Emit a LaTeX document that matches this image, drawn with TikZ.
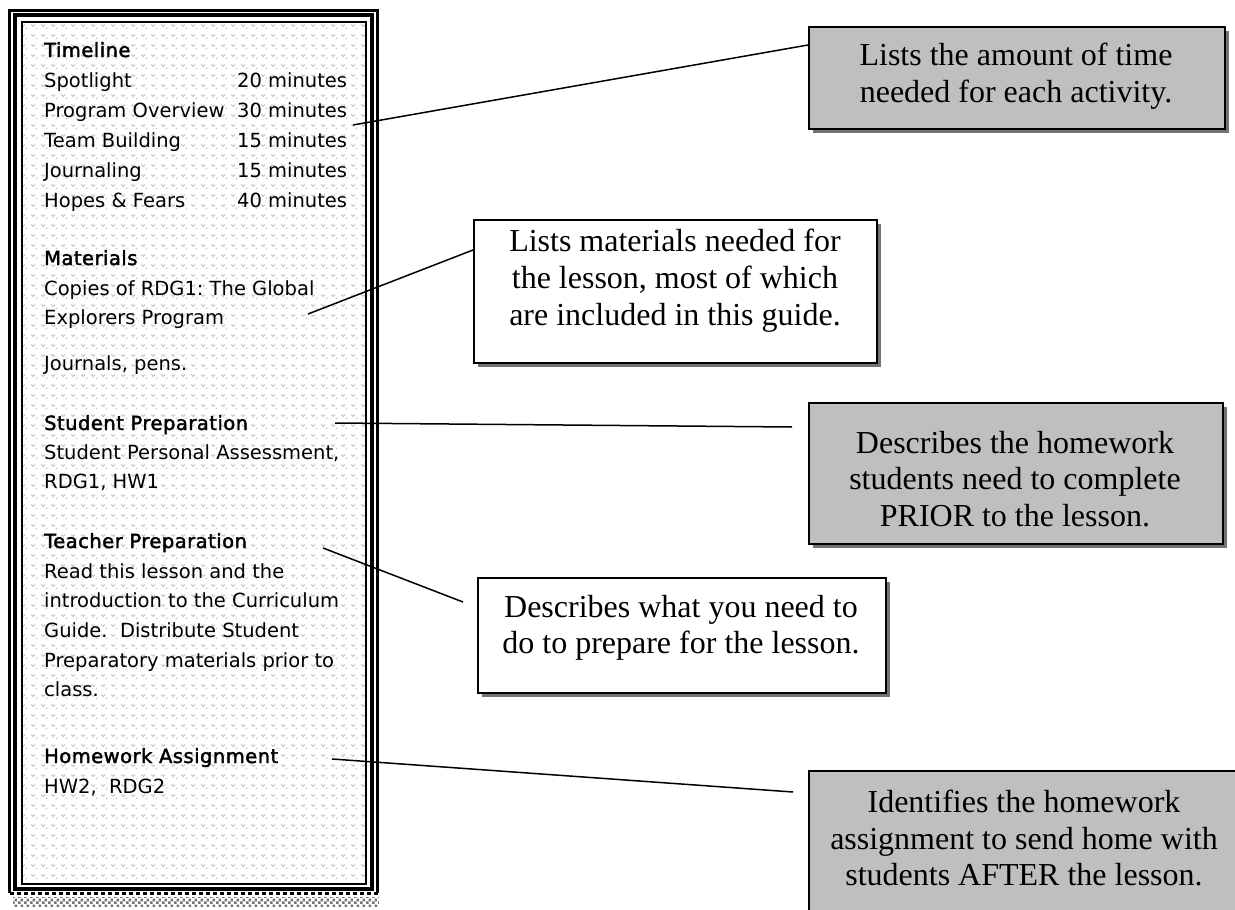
\documentclass[tikz,border=0pt]{standalone}
\usepackage{fontspec}
\setmainfont{Liberation Serif}
\newfontfamily\panelfont{DejaVu Sans}
\newfontfamily\headfont[FakeBold=2,LetterSpace=2.5]{DejaVu Sans}
\usetikzlibrary{patterns.meta,shadows}

\tikzdeclarepattern{
  name=wordart,
  type=uncolored,
  bounding box={(0pt,0pt) and (10pt,10pt)},
  tile size={(10pt,10pt)},
  code={
    \draw[line width=1.1pt] (1.5pt,6pt) -- (3.5pt,4pt) -- (5.5pt,6pt);
    \draw[line width=1.1pt] (6.5pt,1pt) -- (8pt,2.5pt);
  }
}
\tikzdeclarepattern{
  name=checks,
  type=uncolored,
  bounding box={(0pt,0pt) and (6pt,6pt)},
  tile size={(6pt,6pt)},
  code={
    \fill (0pt,0pt) rectangle (3pt,3pt);
    \fill (3pt,3pt) rectangle (6pt,6pt);
  }
}

\begin{document}
\frenchspacing
\begin{tikzpicture}[x=1pt,y=-1pt,
  panel/.style={font=\panelfont\fontsize{19.5}{25}\selectfont, anchor=base west, inner sep=0pt},
  head/.style={font=\headfont\fontsize{19.5}{25}\selectfont, anchor=base west, inner sep=0pt},
  callbox/.style={draw=black, line width=1.5pt, anchor=north west, inner sep=0pt,
    drop shadow={shadow xshift=4pt, shadow yshift=-4pt, fill=black!55, opacity=1}},
  grayfill/.style={fill=black!25},
  whitefill/.style={fill=white},
  note/.style={font=\fontsize{32}{36.5}\selectfont, align=center, anchor=north, inner sep=0pt},
  conn/.style={line width=1.5pt, draw=black}
]
\useasboundingbox (0,0) rectangle (1235,910);

% ---------- left panel frame ----------
\fill[pattern=wordart, pattern color=black!22] (23,23) rectangle (365,883);
\draw[line width=2pt] (22,22) rectangle (366,884);
\draw[line width=4pt] (15,15) rectangle (371.5,888.5);
\draw[line width=3pt] (9.5,893) -- (9.5,10.5) -- (377.5,10.5) -- (377.5,893);
\draw[line width=3pt, dash pattern=on 4pt off 3pt] (9.5,893) -- (377.5,893);
\fill[pattern=checks, pattern color=black!55] (13,897) rectangle (379,906);

% ---------- left panel text ----------
\node[head]  (tl)  at (44,57)  {Timeline};
\node[panel] (a1)  at (44,87)  {Spotlight};
\node[panel] (m1)  at (237,87) {20 minutes};
\node[panel] (a2)  at (44,117) {Program Overview};
\node[panel] (m2)  at (237,117) {30 minutes};
\node[panel] (a3)  at (44,147) {Team Building};
\node[panel] (m3)  at (237,147) {15 minutes};
\node[panel] (a4)  at (44,177) {Journaling};
\node[panel] (m4)  at (237,177) {15 minutes};
\node[panel] (a5)  at (44,207) {Hopes \& Fears};
\node[panel] (m5)  at (237,207) {40 minutes};

\node[head]  (mat) at (44,265) {Materials};
\node[panel] (mt1) at (44,295) {Copies of RDG1: The Global};
\node[panel] (mt2) at (44,324) {Explorers Program};
\node[panel] (mt3) at (44,370) {Journals, pens.};

\node[head]  (sp)  at (44,430) {Student Preparation};
\node[panel] (sp1) at (44,459) {Student Personal Assessment,};
\node[panel] (sp2) at (44,488) {RDG1, HW1};

\node[head]  (tp)  at (44,548) {Teacher Preparation};
\node[panel] (tp1) at (44,578) {Read this lesson and the};
\node[panel] (tp2) at (44,607) {introduction to the Curriculum};
\node[panel] (tp3) at (44,637) {Guide.~~Distribute Student};
\node[panel] (tp4) at (44,667) {Preparatory materials prior to};
\node[panel] (tp5) at (44,696) {class.};

\node[head]  (hw)  at (44,763) {Homework Assignment};
\node[panel] (hw1) at (44,793) {HW2,~~RDG2};

% ---------- callout boxes ----------
\node[callbox, grayfill, minimum width=416pt, minimum height=102pt] (b1) at (808,26) {};
\node[note] (t1) at (1016,43) {Lists the amount of time\\needed for each activity.};

\node[callbox, whitefill, minimum width=403pt, minimum height=143pt] (b2) at (473,219) {};
\node[note, font=\fontsize{32}{37}\selectfont] (t2) at (675,229) {Lists materials needed for\\the lesson, most of which\\are included in this guide.};

\node[callbox, grayfill, minimum width=414pt, minimum height=141pt] (b3) at (808,402) {};
\node[note] (t3) at (1015,431) {Describes the homework\\students need to complete\\PRIOR to the lesson.};

\node[callbox, whitefill, minimum width=408pt, minimum height=115pt] (b4) at (477,577) {};
\node[note] (t4) at (681,595) {Describes what you need to\\do to prepare for the lesson.};

\node[callbox, grayfill, minimum width=440pt, minimum height=160pt] (b5) at (808,770) {};
\node[note] (t5) at (1024,790) {Identifies the homework\\assignment to send home with\\students AFTER the lesson.};

% ---------- connectors ----------
\coordinate (c1) at (353,125);  \coordinate (e1) at (808,45);
\coordinate (c2) at (308,314);  \coordinate (e2) at (473,250);
\coordinate (c3) at (335,423);  \coordinate (e3) at (792,427);
\coordinate (c4) at (323,548);  \coordinate (e4) at (463,602);
\coordinate (c5) at (332,759);  \coordinate (e5) at (793,792);
\draw[conn] (c1) -- (e1);
\draw[conn] (c2) -- (e2);
\draw[conn] (c3) -- (e3);
\draw[conn] (c4) -- (e4);
\draw[conn] (c5) -- (e5);
\end{tikzpicture}
\end{document}
